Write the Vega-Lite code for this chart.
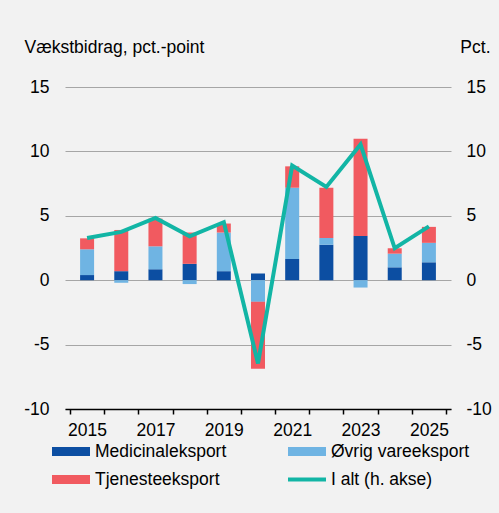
{
  "$schema": "https://vega.github.io/schema/vega-lite/v6.json",
  "width": 386,
  "height": 322,
  "autosize": {"type": "none"},
  "padding": {"left": 65, "top": 87, "right": 48, "bottom": 104},
  "background": "#f2f2f2",
  "config": {
    "view": {"stroke": null},
    "font": "Liberation Sans",
    "axis": {"labelFont": "Liberation Sans", "titleFont": "Liberation Sans", "labelColor": "#000000", "titleColor": "#000000", "labelFontSize": 17.5, "titleFontSize": 17.5, "titleFontWeight": "normal"},
    "legend": {"labelFont": "Liberation Sans", "labelColor": "#000000", "labelFontSize": 17.5}
  },
  "datasets": {
    "bars": [
      {"year": 2015, "series": "Medicinaleksport", "order": 1, "value": 0.4},
      {"year": 2015, "series": "Øvrig vareeksport", "order": 2, "value": 2.0},
      {"year": 2015, "series": "Tjenesteeksport", "order": 3, "value": 0.85},
      {"year": 2016, "series": "Medicinaleksport", "order": 1, "value": 0.7},
      {"year": 2016, "series": "Øvrig vareeksport", "order": 2, "value": -0.2},
      {"year": 2016, "series": "Tjenesteeksport", "order": 3, "value": 3.2},
      {"year": 2017, "series": "Medicinaleksport", "order": 1, "value": 0.85},
      {"year": 2017, "series": "Øvrig vareeksport", "order": 2, "value": 1.78},
      {"year": 2017, "series": "Tjenesteeksport", "order": 3, "value": 2.15},
      {"year": 2018, "series": "Medicinaleksport", "order": 1, "value": 1.27},
      {"year": 2018, "series": "Øvrig vareeksport", "order": 2, "value": -0.3},
      {"year": 2018, "series": "Tjenesteeksport", "order": 3, "value": 2.43},
      {"year": 2019, "series": "Medicinaleksport", "order": 1, "value": 0.7},
      {"year": 2019, "series": "Øvrig vareeksport", "order": 2, "value": 3.0},
      {"year": 2019, "series": "Tjenesteeksport", "order": 3, "value": 0.7},
      {"year": 2020, "series": "Medicinaleksport", "order": 1, "value": 0.52},
      {"year": 2020, "series": "Øvrig vareeksport", "order": 2, "value": -1.68},
      {"year": 2020, "series": "Tjenesteeksport", "order": 3, "value": -5.19},
      {"year": 2021, "series": "Medicinaleksport", "order": 1, "value": 1.65},
      {"year": 2021, "series": "Øvrig vareeksport", "order": 2, "value": 5.53},
      {"year": 2021, "series": "Tjenesteeksport", "order": 3, "value": 1.66},
      {"year": 2022, "series": "Medicinaleksport", "order": 1, "value": 2.76},
      {"year": 2022, "series": "Øvrig vareeksport", "order": 2, "value": 0.52},
      {"year": 2022, "series": "Tjenesteeksport", "order": 3, "value": 3.9},
      {"year": 2023, "series": "Medicinaleksport", "order": 1, "value": 3.44},
      {"year": 2023, "series": "Øvrig vareeksport", "order": 2, "value": -0.57},
      {"year": 2023, "series": "Tjenesteeksport", "order": 3, "value": 7.54},
      {"year": 2024, "series": "Medicinaleksport", "order": 1, "value": 1.0},
      {"year": 2024, "series": "Øvrig vareeksport", "order": 2, "value": 1.06},
      {"year": 2024, "series": "Tjenesteeksport", "order": 3, "value": 0.42},
      {"year": 2025, "series": "Medicinaleksport", "order": 1, "value": 1.39},
      {"year": 2025, "series": "Øvrig vareeksport", "order": 2, "value": 1.51},
      {"year": 2025, "series": "Tjenesteeksport", "order": 3, "value": 1.24}
    ],
    "total": [
      {"year": 2015, "value": 3.28},
      {"year": 2016, "value": 3.75},
      {"year": 2017, "value": 4.83},
      {"year": 2018, "value": 3.41},
      {"year": 2019, "value": 4.5},
      {"year": 2020, "value": -6.46},
      {"year": 2021, "value": 8.9},
      {"year": 2022, "value": 7.24},
      {"year": 2023, "value": 10.54},
      {"year": 2024, "value": 2.48},
      {"year": 2025, "value": 4.18}
    ]
  },
  "resolve": {"axis": {"x": "independent", "y": "independent"}},
  "layer": [
    {
      "data": {"name": "bars"},
      "mark": {"type": "bar", "size": 14},
      "encoding": {
        "x": {
          "field": "year", "type": "quantitative",
          "scale": {"domain": [2014.5, 2025.5], "nice": false, "zero": false},
          "axis": {"orient": "bottom", "values": [2014.5, 2015.5, 2016.5, 2017.5, 2018.5, 2019.5, 2020.5, 2021.5, 2022.5, 2023.5, 2024.5, 2025.5], "labels": false, "title": null, "grid": false, "ticks": true, "tickSize": 5, "tickColor": "#000000", "tickWidth": 1.5, "domain": true, "domainColor": "#000000", "domainWidth": 1.5}
        },
        "y": {
          "field": "value", "type": "quantitative", "stack": "zero",
          "scale": {"domain": [-10, 15], "nice": false, "zero": false},
          "axis": {"orient": "left", "values": [-10, -5, 0, 5, 10, 15], "labelExpr": "replace(datum.label, '−', '-')", "domain": false, "ticks": false, "grid": true, "gridColor": "#a6a6a6", "gridWidth": 1, "labelPadding": 16, "title": "Vækstbidrag, pct.-point", "titleAngle": 0, "titleAlign": "left", "titleBaseline": "middle", "titleX": -41, "titleY": -40}
        },
        "color": {
          "field": "series", "type": "nominal",
          "scale": {"domain": ["Medicinaleksport", "Øvrig vareeksport", "Tjenesteeksport", "I alt (h. akse)"], "range": ["#0c4ea2", "#6fb4e3", "#f15a60", "#12b5a5"]},
          "legend": {
            "title": null, "orient": "none", "legendX": -13, "legendY": 356, "columns": 2, "direction": "horizontal",
            "columnPadding": 61, "rowPadding": 10, "padding": 0, "offset": 0,
            "symbolType": "M-1,-0.237H1V0.237H-1Z", "symbolSize": 1444, "symbolStrokeWidth": 0, "clipHeight": 17, "labelOffset": 5, "labelLimit": 300,
            "encode": {"symbols": {"update": {"shape": [{"test": "datum.value === 'I alt (h. akse)'", "value": "M-1,-0.1H1V0.1H-1Z"}, {"value": "M-1,-0.237H1V0.237H-1Z"}], "opacity": {"value": 1}}}}
          }
        },
        "order": {"field": "order", "type": "quantitative"}
      }
    },
    {
      "mark": {"type": "rule", "color": "#1a1a1a", "strokeWidth": 2},
      "encoding": {"y": {"datum": 0, "type": "quantitative", "axis": null}}
    },
    {
      "mark": {"type": "rule", "color": "#404040", "strokeWidth": 1.5},
      "encoding": {"x": {"datum": 2023.5, "type": "quantitative", "axis": null}}
    },
    {
      "data": {"name": "total"},
      "mark": {"type": "line", "strokeWidth": 4},
      "encoding": {
        "x": {
          "field": "year", "type": "quantitative",
          "axis": {"orient": "bottom", "values": [2015, 2017, 2019, 2021, 2023, 2025], "format": "d", "labels": true, "ticks": false, "domain": false, "grid": false, "title": null, "labelPadding": 12}
        },
        "y": {
          "field": "value", "type": "quantitative",
          "axis": {"orient": "right", "values": [-10, -5, 0, 5, 10, 15], "labelExpr": "replace(datum.label, '−', '-')", "domain": false, "ticks": false, "grid": false, "labelPadding": 15, "title": "Pct.", "titleAngle": 0, "titleAlign": "right", "titleBaseline": "middle", "titleX": 39, "titleY": -40}
        },
        "color": {"datum": "I alt (h. akse)"}
      }
    }
  ]
}
